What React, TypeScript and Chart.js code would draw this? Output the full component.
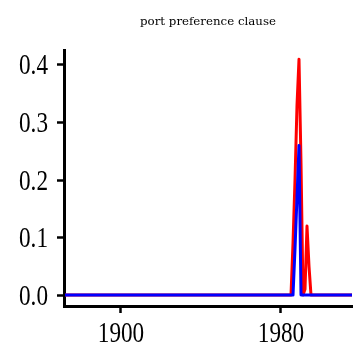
import React, { useEffect, useRef } from "react";
import { Chart, registerables } from "chart.js";

Chart.register(...registerables);

const titleText = "port preference clause";
const startYear = 1872;
const endYear = 2016;
// mid-year sample points with non-zero values (all other years read as 0)
const peakYears = [1984.5, 1985.5, 1986.5, 1987.5, 1988.5, 1989.5, 1990.5, 1991.5, 1992.5, 1993.5, 1994.5, 1995.5, 1996.5];
const redPeak = [0, 0, 0.09, 0.2, 0.33, 0.41, 0.23, 0, 0.01, 0.12, 0.05, 0, 0];
const bluePeak = [0, 0, 0, 0.08, 0.17, 0.26, 0, 0, 0, 0, 0, 0, 0];
const xTicks = [1900, 1980];
const xTickLabels = ["1900", "1980"];
const yTicks = [0, 0.1, 0.2, 0.3, 0.4];
const yTickLabels = ["0.0", "0.1", "0.2", "0.3", "0.4"];

function buildSeries(peak: number[]) {
  const pts: { x: number; y: number }[] = [];
  for (let yr = startYear; yr <= endYear; yr++) {
    const mid = yr + 0.5;
    const i = peakYears.indexOf(mid);
    pts.push({ x: mid, y: i >= 0 ? peak[i] : 0 });
  }
  return pts;
}

const LABEL_FONT = "29px 'Liberation Serif'";
const SQUEEZE = 0.8;

const textPlugin = {
  id: "customText",
  afterDraw(chart: any) {
    const { ctx, chartArea, scales } = chart;
    ctx.save();
    ctx.font = "11.8px 'DejaVu Serif'";
    ctx.fillStyle = "#000";
    ctx.textAlign = "center";
    ctx.textBaseline = "middle";
    ctx.fillText(titleText, (chartArea.left + chartArea.right) / 2, 22);

    ctx.font = LABEL_FONT;
    ctx.textBaseline = "alphabetic";
    // y labels
    ctx.textAlign = "right";
    yTicks.forEach((v, i) => {
      const py = scales.y.getPixelForValue(v);
      ctx.save();
      ctx.translate(chartArea.left - 16, py + 9.5);
      ctx.scale(SQUEEZE, 1);
      ctx.fillText(yTickLabels[i], 0, 0);
      ctx.restore();
    });
    // x labels
    ctx.textAlign = "center";
    xTicks.forEach((v, i) => {
      const px = scales.x.getPixelForValue(v);
      ctx.save();
      ctx.translate(px + 1, chartArea.bottom + 36);
      ctx.scale(SQUEEZE, 1);
      ctx.fillText(xTickLabels[i], 0, 0);
      ctx.restore();
    });
    ctx.restore();
  },
};

export default function App() {
  const ref = useRef<HTMLCanvasElement>(null);
  useEffect(() => {
    document.body.style.margin = "0";
    const hidden = "rgba(0,0,0,0)";
    const chart = new Chart(ref.current!, {
      type: "line",
      data: {
        datasets: [
          {
            data: buildSeries(bluePeak),
            borderColor: "#0000ff",
            borderWidth: 3,
            borderJoinStyle: "round",
            pointRadius: 0,
            tension: 0,
            order: 1,
          },
          {
            data: buildSeries(redPeak),
            borderColor: "#ff0000",
            borderWidth: 3,
            borderJoinStyle: "round",
            pointRadius: 0,
            tension: 0,
            order: 2,
          },
        ],
      },
      options: {
        animation: false,
        responsive: false,
        devicePixelRatio: 1,
        layout: { padding: { top: 50, right: 7, left: 0, bottom: 0 } },
        plugins: { legend: { display: false }, tooltip: { enabled: false }, title: { display: false } },
        scales: {
          x: {
            type: "linear",
            min: startYear,
            max: endYear,
            afterBuildTicks: (s: any) => {
              s.ticks = xTicks.map((v) => ({ value: v }));
            },
            afterFit: (s: any) => {
              s.height = 40;
            },
            grid: {
              drawOnChartArea: false,
              drawTicks: true,
              tickLength: 7,
              tickWidth: 2.5,
              tickColor: "#000",
            },
            border: { display: true, color: "#000", width: 3 },
            ticks: { font: { size: 12 }, color: hidden, padding: 4, maxRotation: 0 },
          },
          y: {
            type: "linear",
            min: -0.019,
            max: 0.426,
            afterBuildTicks: (s: any) => {
              s.ticks = yTicks.map((v) => ({ value: v }));
            },
            afterFit: (s: any) => {
              s.width = 64;
            },
            grid: {
              drawOnChartArea: false,
              drawTicks: true,
              tickLength: 7,
              tickWidth: 2.5,
              tickColor: "#000",
            },
            border: { display: true, color: "#000", width: 3 },
            ticks: { font: { size: 12 }, color: hidden, padding: 8 },
          },
        },
      },
      plugins: [textPlugin],
    });
    return () => chart.destroy();
  }, []);
  return (
    <div style={{ width: 359, height: 346 }}>
      <canvas ref={ref} width={359} height={346} />
    </div>
  );
}
